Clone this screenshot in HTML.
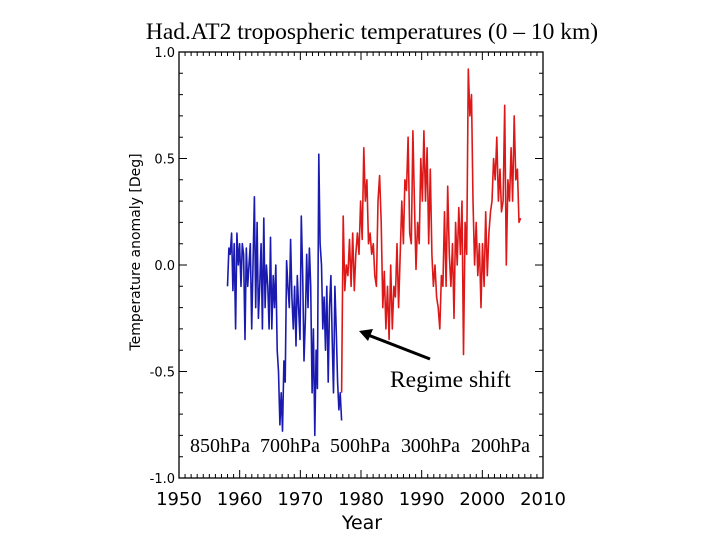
<!DOCTYPE html>
<html><head><meta charset="utf-8"><style>
body{margin:0;background:#fff}
svg{display:block}
.t{font-family:"Liberation Serif",serif}
.s{font-family:"DejaVu Sans",sans-serif}
</style></head><body>
<svg id="c" width="720" height="540">
<text class="t" x="372" y="39" font-size="23.5" text-anchor="middle">Had.AT2 tropospheric temperatures (0 – 10 km)</text>
<text class="s" x="0" y="0" font-size="14" text-anchor="middle" transform="translate(140,252) rotate(-90)">Temperature anomaly [Deg]</text>
<text class="s" x="362" y="529" font-size="19" text-anchor="middle">Year</text>
<g id="ax"></g>
<g id="series"></g>
<text class="t" x="390" y="387" font-size="23.5">Regime shift</text>
<line x1="430" y1="359" x2="368" y2="335" stroke="#000" stroke-width="3"/>
<polygon points="359,331 373,329 368,341" fill="#000"/>
<g class="t" font-size="20">
<text x="190" y="452" textLength="60">850hPa</text>
<text x="260" y="452" textLength="60">700hPa</text>
<text x="330" y="452" textLength="60">500hPa</text>
<text x="401" y="452" textLength="59">300hPa</text>
<text x="471" y="452" textLength="59">200hPa</text>
</g>
</svg>
<script>
const xTicks=[1950,1960,1970,1980,1990,2000,2010];
const yTicks=[-1.0,-0.5,0.0,0.5,1.0];
const blueStart=1958.0, blueEnd=1976.8;
const blueVals=[-0.1,0.08,0.05,0.15,-0.12,0.1,-0.3,0.15,0.0,0.1,-0.1,0.1,0.05,-0.35,0.08,-0.1,0.0,0.1,-0.3,0.0,0.32,-0.2,0.2,-0.25,-0.1,0.1,-0.3,0.22,-0.2,0.0,-0.1,-0.3,0.13,-0.3,-0.05,-0.2,0.0,-0.4,-0.5,-0.75,-0.6,-0.78,-0.45,-0.55,0.02,-0.1,-0.2,0.12,-0.15,-0.3,-0.1,-0.38,-0.05,-0.2,-0.35,0.23,-0.05,-0.45,-0.25,0.05,-0.2,0.08,-0.1,-0.6,-0.3,-0.8,-0.4,-0.58,0.52,0.1,0.0,-0.3,-0.15,-0.4,-0.1,-0.55,-0.2,-0.05,-0.35,-0.6,-0.1,-0.3,-0.55,-0.68,-0.6,-0.73];
const redStart=1976.8, redEnd=2006.3;
const redVals=[-0.6,0.23,-0.12,0.0,-0.05,0.12,-0.1,0.15,-0.12,0.05,0.15,0.05,0.3,0.12,0.55,0.3,0.4,0.1,0.15,0.05,0.1,-0.05,-0.1,0.3,0.42,0.2,-0.2,-0.03,-0.3,-0.1,-0.35,0.0,-0.3,-0.1,-0.15,0.1,-0.2,0.05,0.3,0.1,0.4,0.35,0.6,0.15,0.1,0.63,0.3,-0.02,0.2,0.1,0.5,0.3,0.63,0.3,0.55,0.1,0.45,0.05,-0.1,0.0,-0.15,-0.2,-0.3,-0.05,-0.1,0.25,-0.1,0.37,0.05,-0.1,0.1,-0.25,0.2,0.0,0.27,0.05,0.3,-0.42,0.2,0.05,0.92,0.7,0.8,0.3,0.0,0.2,-0.05,0.1,-0.2,0.1,-0.1,0.25,-0.05,0.15,0.25,0.3,0.5,0.4,0.6,0.3,0.45,0.25,0.3,0.75,0.0,0.4,0.3,0.55,0.3,0.7,0.4,0.45,0.2,0.22];
const X0=179,X1=543,Y0=478,Y1=52;
function xs(y){return X0+(y-1950)/60*(X1-X0);}
function ys(v){return Y0-(v+1)/2*(Y0-Y1);}
const NS="http://www.w3.org/2000/svg";
function mk(t,a,p){const e=document.createElementNS(NS,t);for(const k in a)e.setAttribute(k,a[k]);p.appendChild(e);return e;}
const ax=document.getElementById('ax');
const box=mk('rect',{x:X0,y:Y1,width:X1-X0,height:Y0-Y1,fill:'none',stroke:'#000','stroke-width':1.3},ax);


let d='';
for(let yr=1950;yr<=2010;yr++){const x=xs(yr),L=(yr%10===0)?8:4;d+=`M${x},${Y0}v${-L}M${x},${Y1}v${L}`;}
for(let i=0;i<=20;i++){const v=-1+i*0.1,y=ys(v),L=(i%5===0)?8:4;d+=`M${X0},${y}h${L}M${X1},${y}h${-L}`;}
const tk=mk('path',{d:d,stroke:'#000','stroke-width':1,fill:'none'},ax);


xTicks.forEach(t=>{const e=mk('text',{x:xs(t),y:505,'font-size':18,'text-anchor':'middle','class':'s'},ax);e.textContent=t;

});
yTicks.forEach(t=>{const e=mk('text',{x:X0-4,y:ys(t)+5,'font-size':13,'text-anchor':'end','class':'s'},ax);e.textContent=t.toFixed(1);

});
function line(vals,s,e,col,name){const n=vals.length;const st=(e-s)/(n-1);
const pts=vals.map((v,i)=>xs(s+i*st).toFixed(1)+','+ys(v).toFixed(1)).join(' ');
const p=mk('polyline',{points:pts,fill:'none',stroke:col,'stroke-width':1.6,'stroke-linejoin':'round'},document.getElementById('series'));

}
line(blueVals,blueStart,blueEnd,'#1a1ab0','series-pre-1977');
line(redVals,redStart,redEnd,'#dd1818','series-post-1977');
</script>
</body></html>
